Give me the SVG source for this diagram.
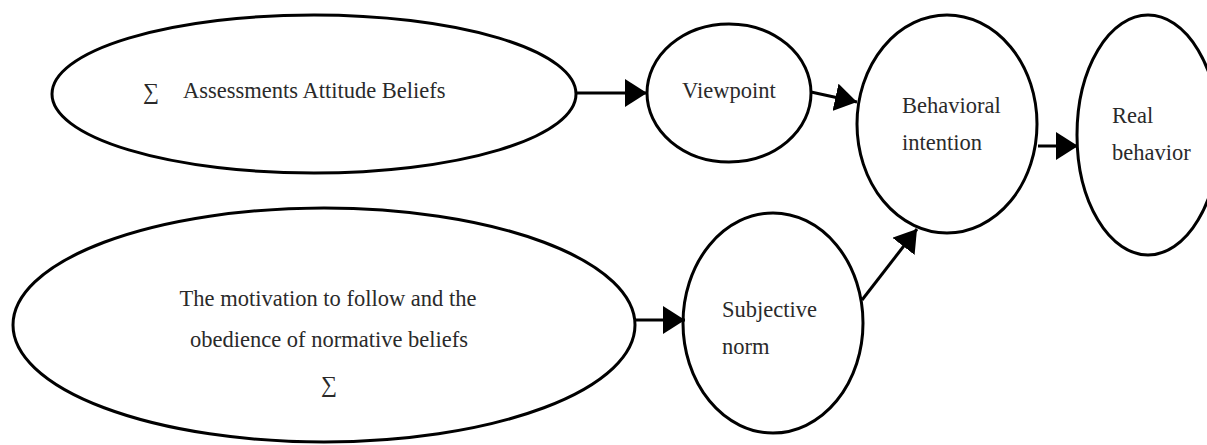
<svg xmlns="http://www.w3.org/2000/svg" width="1207" height="445" viewBox="0 0 1207 445">
<style>
.node{fill:#fff;stroke:#000;stroke-width:3}
.lbl{font-family:"Liberation Serif",serif;font-size:22.5px;fill:#2a2a2a}
.mid{text-anchor:middle}
.edge{stroke:#000;stroke-width:3;fill:none}
</style>
<defs>
<marker id="ah" viewBox="0 0 22 28" refX="22" refY="14" markerWidth="22" markerHeight="28" markerUnits="userSpaceOnUse" orient="auto">
<path d="M0,0 L22,14 L0,28 z" fill="#000"/>
</marker>
</defs>
<rect width="1207" height="445" fill="#fff"/>
<g id="n-assess">
<ellipse class="node" cx="314" cy="94" rx="262" ry="79"/>
<text class="lbl" x="143" y="99">∑</text>
<text class="lbl" x="183" y="98">Assessments Attitude Beliefs</text>
</g>
<g id="n-viewpoint">
<ellipse class="node" cx="729" cy="93" rx="82" ry="69"/>
<text class="lbl" x="682" y="98">Viewpoint</text>
</g>
<g id="n-intention">
<ellipse class="node" cx="947" cy="124" rx="90" ry="109"/>
<text class="lbl" x="902" y="113">Behavioral</text>
<text class="lbl" x="902" y="150">intention</text>
</g>
<g id="n-real">
<ellipse class="node" cx="1148" cy="135" rx="71" ry="120"/>
<text class="lbl" x="1112" y="123">Real</text>
<text class="lbl" x="1112" y="160">behavior</text>
</g>
<g id="n-motivation">
<ellipse class="node" cx="324" cy="325" rx="311" ry="117"/>
<text class="lbl mid" x="328" y="306">The motivation to follow and the</text>
<text class="lbl mid" x="329" y="347">obedience of normative beliefs</text>
<text class="lbl mid" x="329" y="392">∑</text>
</g>
<g id="n-subjective">
<ellipse class="node" cx="773" cy="323" rx="90" ry="110"/>
<text class="lbl" x="722" y="317">Subjective</text>
<text class="lbl" x="722" y="354">norm</text>
</g>
<g id="connectors">
<line class="edge" x1="577" y1="93" x2="647" y2="93" marker-end="url(#ah)"/>
<line class="edge" x1="811" y1="92" x2="857" y2="102" marker-end="url(#ah)"/>
<line class="edge" x1="1038" y1="146" x2="1078" y2="146" marker-end="url(#ah)"/>
<line class="edge" x1="636" y1="320" x2="685" y2="320" marker-end="url(#ah)"/>
<line class="edge" x1="862" y1="300" x2="917" y2="229" marker-end="url(#ah)"/>
</g>
</svg>
